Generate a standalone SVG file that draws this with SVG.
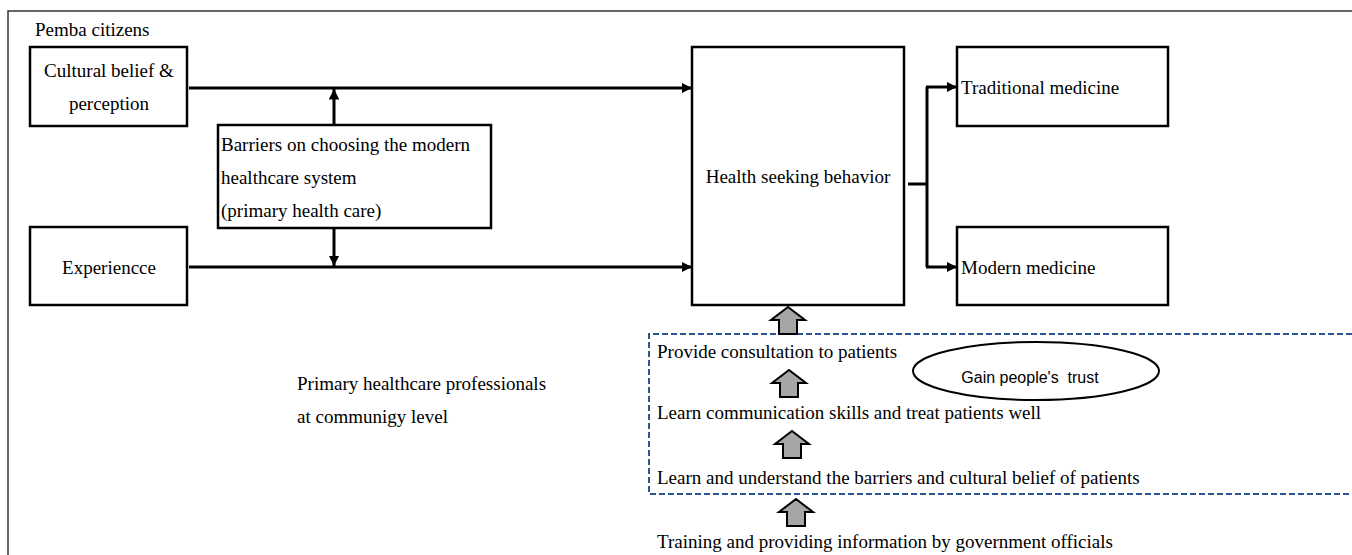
<svg xmlns="http://www.w3.org/2000/svg" width="1352" height="555" viewBox="0 0 1352 555">
<defs>
<marker id="ah" viewBox="0 0 10 10" refX="10" refY="5" markerWidth="3.5" markerHeight="3.5" orient="auto" markerUnits="strokeWidth"><path d="M0,0 L10,5 L0,10 z" fill="#000"/></marker>
<path id="blk" d="M0,0 L17,13 L9,13 L9,27 L-9,27 L-9,13 L-17,13 Z"/>
</defs>
<style>
.box{fill:#fff;stroke:#000;stroke-width:2.5}
.t{font-family:"Liberation Serif",serif;font-size:19px;fill:#000}
.c{text-anchor:middle}
.ln{stroke:#000;stroke-width:3;fill:none}
.ba{fill:#a6a6a6;stroke:#000;stroke-width:2}
</style>
<rect x="0" y="0" width="1352" height="555" fill="#fff"/>
<path d="M8,555 L8,11 L1352,11" fill="none" stroke="#333" stroke-width="1.5"/>
<text class="t" x="35" y="36">Pemba citizens</text>
<g id="cultural"><rect class="box" x="30" y="47" width="157" height="79"/><text class="t c" x="109" y="77">Cultural belief &amp;</text><text class="t c" x="109" y="110">perception</text></g>
<g id="experience"><rect class="box" x="30" y="227" width="157" height="78"/><text class="t c" x="109" y="274">Experiencce</text></g>
<g id="barriers"><rect class="box" x="218" y="125" width="273" height="103"/><text class="t" x="221" y="151">Barriers on choosing the modern</text><text class="t" x="221" y="184">healthcare system</text><text class="t" x="221" y="217">(primary health care)</text></g>
<g id="health"><rect class="box" x="692" y="47" width="212" height="258"/><text class="t c" x="798" y="183">Health seeking behavior</text></g>
<g id="traditional"><rect class="box" x="957" y="47" width="211" height="79"/><text class="t" x="961" y="94">Traditional medicine</text></g>
<g id="modern"><rect class="box" x="957" y="227" width="211" height="78"/><text class="t" x="961" y="274">Modern medicine</text></g>
<g id="professionals"><text class="t" x="297" y="390">Primary healthcare professionals</text><text class="t" x="297" y="423">at communigy level</text></g>
<g id="group"><path d="M1352,334 L649,334 L649,494 L1352,494" fill="none" stroke="#2f5597" stroke-width="2" stroke-dasharray="6,3"/>
<text class="t" x="657" y="358">Provide consultation to patients</text>
<text class="t" x="657" y="419">Learn communication skills and treat patients well</text>
<text class="t" x="657" y="484">Learn and understand the barriers and cultural belief of patients</text></g>
<g id="trust"><ellipse cx="1036" cy="371" rx="123" ry="29" fill="#fff" stroke="#000" stroke-width="2"/><text x="1030" y="383" text-anchor="middle" style="font-family:'Liberation Sans',sans-serif;font-size:16px;white-space:pre">Gain people's  trust</text></g>
<g id="training"><text class="t" x="657" y="548">Training and providing information by government officials</text></g>
<g id="connectors">
<line class="ln" x1="189" y1="88" x2="692" y2="88" marker-end="url(#ah)"/>
<line class="ln" x1="189" y1="267" x2="692" y2="267" marker-end="url(#ah)"/>
<line class="ln" x1="334" y1="124" x2="334" y2="89" marker-end="url(#ah)"/>
<line class="ln" x1="334" y1="229" x2="334" y2="266" marker-end="url(#ah)"/>
<path class="ln" d="M908,184 L927,184 M927,87 L927,267"/>
<line class="ln" x1="926" y1="87" x2="957" y2="87" marker-end="url(#ah)"/>
<line class="ln" x1="926" y1="267" x2="957" y2="267" marker-end="url(#ah)"/>
<use href="#blk" class="ba" x="788" y="307"/>
<use href="#blk" class="ba" x="789" y="370"/>
<use href="#blk" class="ba" x="792" y="431"/>
<use href="#blk" class="ba" x="796" y="499"/>
</g>
</svg>
